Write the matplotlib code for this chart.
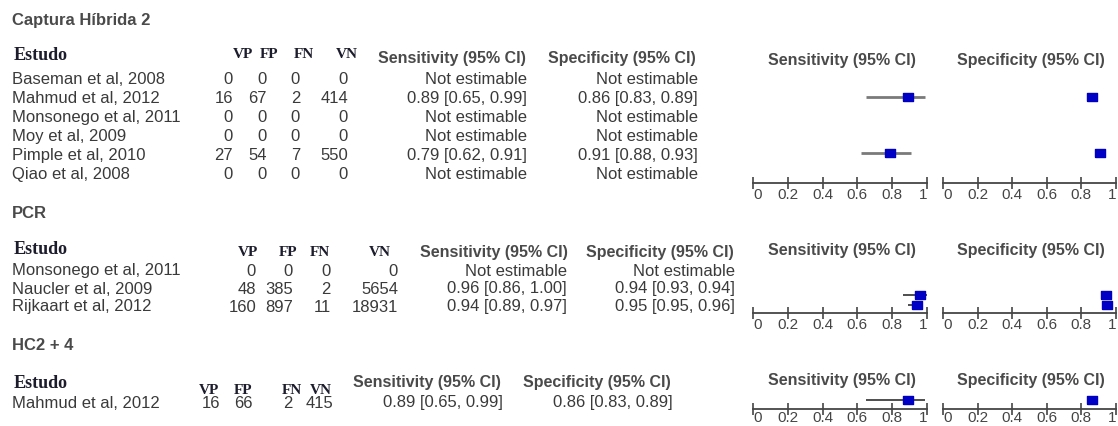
import matplotlib.pyplot as plt

plt.rcParams['font.family'] = ['Liberation Sans', 'DejaVu Sans']

W, H = 1118, 426

# Captura Híbrida 2
hc2_studies = ["Baseman et al, 2008", "Mahmud et al, 2012", "Monsonego et al, 2011",
               "Moy et al, 2009", "Pimple et al, 2010", "Qiao et al, 2008"]
hc2_tp = [0, 16, 0, 0, 27, 0]
hc2_fp = [0, 67, 0, 0, 54, 0]
hc2_fn = [0, 2, 0, 0, 7, 0]
hc2_tn = [0, 414, 0, 0, 550, 0]
hc2_sens = [None, 0.89, None, None, 0.79, None]
hc2_sens_lo = [None, 0.65, None, None, 0.62, None]
hc2_sens_hi = [None, 0.99, None, None, 0.91, None]
hc2_spec = [None, 0.86, None, None, 0.91, None]
hc2_spec_lo = [None, 0.83, None, None, 0.88, None]
hc2_spec_hi = [None, 0.89, None, None, 0.93, None]

# PCR
pcr_studies = ["Monsonego et al, 2011", "Naucler et al, 2009", "Rijkaart et al, 2012"]
pcr_tp = [0, 48, 160]
pcr_fp = [0, 385, 897]
pcr_fn = [0, 2, 11]
pcr_tn = [0, 5654, 18931]
pcr_sens = [None, 0.96, 0.94]
pcr_sens_lo = [None, 0.86, 0.89]
pcr_sens_hi = [None, 1.00, 0.97]
pcr_spec = [None, 0.94, 0.95]
pcr_spec_lo = [None, 0.93, 0.95]
pcr_spec_hi = [None, 0.94, 0.96]

# HC2 + 4
hc4_studies = ["Mahmud et al, 2012"]
hc4_tp = [16]
hc4_fp = [66]
hc4_fn = [2]
hc4_tn = [415]
hc4_sens = [0.89]
hc4_sens_lo = [0.65]
hc4_sens_hi = [0.99]
hc4_spec = [0.86]
hc4_spec_lo = [0.83]
hc4_spec_hi = [0.89]

count_labels = ["VP", "FP", "FN", "VN"]
tick_values = [0, 0.2, 0.4, 0.6, 0.8, 1]
tick_labels = ["0", "0.2", "0.4", "0.6", "0.8", "1"]

TEXT = '#3a3a3a'
HEAD = '#4a4a4a'
SERIF = '#1c1c2c'
AXIS = '#454545'
BLUE = '#0000c4'
BODY_SIZE = 12
HEAD_SIZE = 11.5

fig = plt.figure(figsize=(W / 100, H / 100), dpi=100)


def put(x, y, s, **kw):
    kw.setdefault('va', 'center')
    fig.text(x / W, 1 - y / H, s, **kw)


def ci_text(est, lo, hi):
    if est is None:
        return "Not estimable"
    return f"{est:.2f} [{lo:.2f}, {hi:.2f}]"


def forest(x0, x1, lay, est, lo, hi):
    top = lay['plot_head_y'] + 10
    bottom = lay['axis_y']
    ax = fig.add_axes([x0 / W, 1 - bottom / H, (x1 - x0) / W, (bottom - top) / H])
    ax.set_xlim(0, 1)
    ax.set_ylim(bottom, top)
    for i, e in enumerate(est):
        if e is None:
            continue
        y = lay['plot_y0'] + i * lay['plot_dy']
        ax.plot([lo[i], hi[i]], [y, y], color=lay['ci_color'], lw=lay['ci_lw'],
                solid_capstyle='butt', clip_on=False, zorder=2)
        ax.plot([e], [y], marker=[(-1, -0.75), (1, -0.75), (1, 0.75), (-1, 0.75), (-1, -0.75)],
                ms=7.2, color=BLUE, mec=BLUE, clip_on=False, zorder=3)
    for side in ['top', 'left', 'right']:
        ax.spines[side].set_visible(False)
    ax.spines['bottom'].set_color(AXIS)
    ax.spines['bottom'].set_linewidth(1.3)
    ax.set_yticks([])
    ax.set_xticks(tick_values)
    ax.set_xticklabels([])
    ax.tick_params(axis='x', direction='inout', length=9, width=1.2, color=AXIS)
    # tick labels: end labels tucked inside the axis ends
    trans = ax.get_xaxis_transform()
    gap = -lay['label_gap'] / (bottom - top)
    for v, lab in zip(tick_values, tick_labels):
        ha = 'left' if v == 0 else ('right' if v == 1 else 'center')
        ax.text(v, gap, lab, transform=trans, ha=ha, va='top', fontsize=11,
                color=AXIS, clip_on=False)
    ax.patch.set_visible(False)
    return ax


def draw_section(title, studies, tp, fp, fn, tn, sens, sens_lo, sens_hi,
                 spec, spec_lo, spec_hi, lay):
    put(12, lay['title_y'], title, fontsize=12, fontweight='bold', color=HEAD)
    put(14, lay['head_y'], "Estudo", family='Liberation Serif', fontsize=13,
        fontweight='bold', color=SERIF)
    for lab, cx in zip(count_labels, lay['cnt_head_x']):
        put(cx, lay['cnt_head_y'], lab, family='Liberation Serif', fontsize=11,
            fontweight='bold', color=SERIF, ha='center')
    put(lay['sens_head_x'], lay['ci_head_y'], "Sensitivity (95% CI)", fontsize=HEAD_SIZE,
        fontweight='bold', color=HEAD, ha='center')
    put(lay['spec_head_x'], lay['ci_head_y'], "Specificity (95% CI)", fontsize=HEAD_SIZE,
        fontweight='bold', color=HEAD, ha='center')
    put(842, lay['plot_head_y'], "Sensitivity (95% CI)", fontsize=HEAD_SIZE,
        fontweight='bold', color=HEAD, ha='center')
    put(1031, lay['plot_head_y'], "Specificity (95% CI)", fontsize=HEAD_SIZE,
        fontweight='bold', color=HEAD, ha='center')

    for i, name in enumerate(studies):
        y = lay['row_y0'] + i * lay['row_dy']
        put(12, y, name, fontsize=BODY_SIZE, color=TEXT)
        for vals, rx in zip([tp, fp, fn, tn], lay['cnt_right']):
            put(rx, y, str(vals[i]), fontsize=BODY_SIZE, color=TEXT, ha='right')
        put(lay['sens_right'], y, ci_text(sens[i], sens_lo[i], sens_hi[i]),
            fontsize=BODY_SIZE, color=TEXT, ha='right')
        put(lay['spec_right'], y, ci_text(spec[i], spec_lo[i], spec_hi[i]),
            fontsize=BODY_SIZE, color=TEXT, ha='right')

    forest(753, 927, lay, sens, sens_lo, sens_hi)
    forest(943, 1116, lay, spec, spec_lo, spec_hi)


hc2_layout = dict(title_y=20, head_y=56, cnt_head_y=55, cnt_head_x=[243, 269, 304, 347],
                  cnt_right=[233, 267, 300, 348], row_y0=79, row_dy=19.1,
                  sens_right=527, spec_right=698, sens_head_x=452, spec_head_x=622,
                  ci_head_y=59, plot_head_y=60, plot_y0=78.3, plot_dy=18.7,
                  axis_y=183, ci_lw=2, ci_color='#7a7a7a', label_gap=5)
pcr_layout = dict(title_y=213, head_y=250, cnt_head_y=253, cnt_head_x=[248, 288, 320, 380],
                  cnt_right=[256, 293, 331, 398], row_y0=271, row_dy=18,
                  sens_right=567, spec_right=735, sens_head_x=494, spec_head_x=660,
                  ci_head_y=252, plot_head_y=250, plot_y0=285, plot_dy=10,
                  axis_y=313, ci_lw=1.3, ci_color='#404040', label_gap=5)
hc4_layout = dict(title_y=345, head_y=383, cnt_head_y=390, cnt_head_x=[209, 243, 292, 321],
                  cnt_right=[220, 253, 293, 333], row_y0=403, row_dy=18,
                  sens_right=503, spec_right=673, sens_head_x=427, spec_head_x=597,
                  ci_head_y=382, plot_head_y=381, plot_y0=400, plot_dy=18,
                  axis_y=409, ci_lw=1.3, ci_color='#404040', label_gap=2)

draw_section("Captura Híbrida 2", hc2_studies, hc2_tp, hc2_fp, hc2_fn, hc2_tn,
             hc2_sens, hc2_sens_lo, hc2_sens_hi, hc2_spec, hc2_spec_lo, hc2_spec_hi, hc2_layout)
draw_section("PCR", pcr_studies, pcr_tp, pcr_fp, pcr_fn, pcr_tn,
             pcr_sens, pcr_sens_lo, pcr_sens_hi, pcr_spec, pcr_spec_lo, pcr_spec_hi, pcr_layout)
draw_section("HC2 + 4", hc4_studies, hc4_tp, hc4_fp, hc4_fn, hc4_tn,
             hc4_sens, hc4_sens_lo, hc4_sens_hi, hc4_spec, hc4_spec_lo, hc4_spec_hi, hc4_layout)

fig.savefig("out.png", dpi=100)
